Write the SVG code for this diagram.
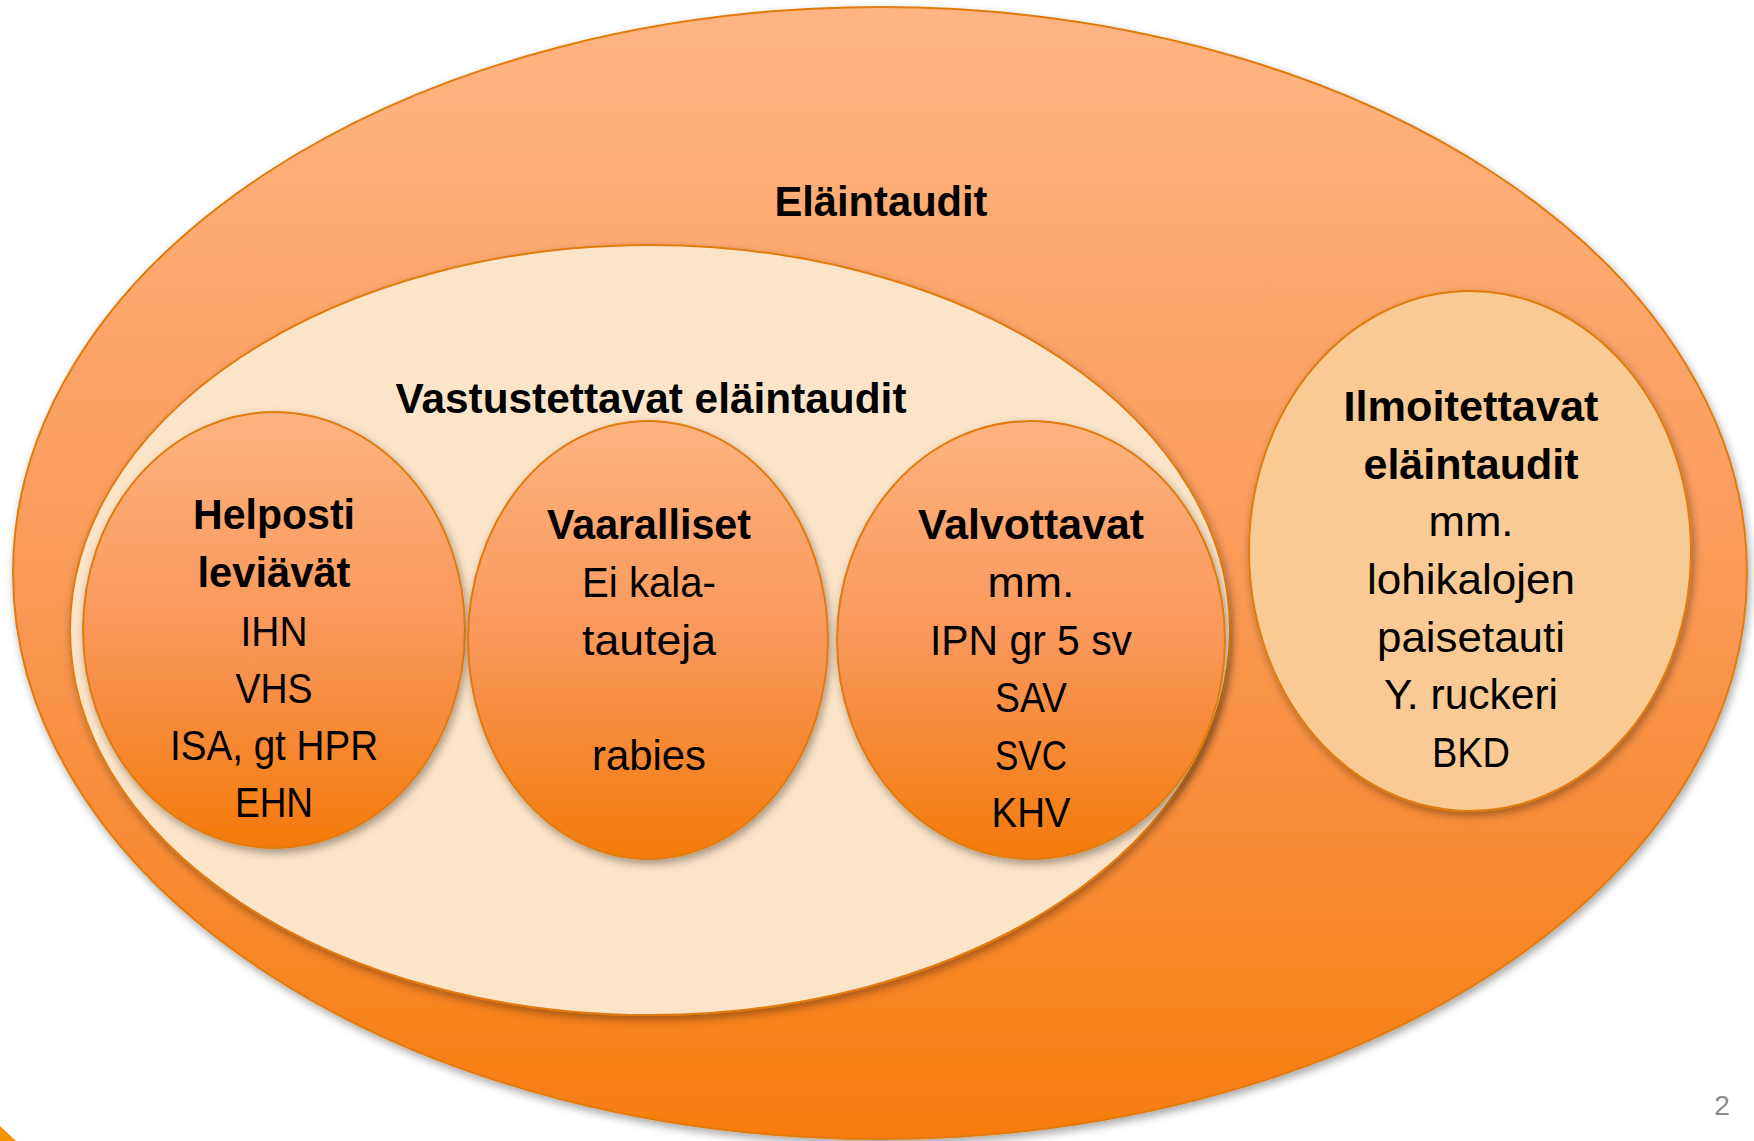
<svg xmlns="http://www.w3.org/2000/svg" width="1754" height="1141" viewBox="0 0 1754 1141">
<defs>
<linearGradient id="gOuter" x1="0" y1="0" x2="0" y2="1">
<stop offset="0" stop-color="#FEB582"/>
<stop offset="0.5" stop-color="#FA9A58"/>
<stop offset="1" stop-color="#F77C0E"/>
</linearGradient>
<linearGradient id="gSmall" x1="0" y1="0" x2="0" y2="1">
<stop offset="0" stop-color="#FDB37F"/>
<stop offset="0.5" stop-color="#F9975A"/>
<stop offset="1" stop-color="#F47A0A"/>
</linearGradient>
<filter id="sh" x="-10%" y="-10%" width="120%" height="125%">
<feDropShadow dx="2" dy="4" stdDeviation="4" flood-color="#000" flood-opacity="0.35"/>
</filter>
<style>
.t{font-family:"Liberation Sans",Arial,sans-serif;font-size:42px;fill:#000;text-anchor:middle}
.b{font-weight:bold}
.ring{stroke:#E07B10;stroke-width:2}
</style>
</defs>
<rect width="1754" height="1141" fill="#fff"/>
<polygon points="0,1126 16,1141 0,1141" fill="#F39200"/>
<g id="elaintaudit">
<ellipse cx="880" cy="573" rx="867" ry="566" fill="url(#gOuter)" class="ring" filter="url(#sh)"/>
<text class="t b" x="881" y="216" textLength="213" lengthAdjust="spacingAndGlyphs">Eläintaudit</text>
</g>
<g id="vastustettavat">
<ellipse cx="650" cy="630" rx="580" ry="385" fill="#FCE4C8" class="ring" filter="url(#sh)"/>
<text class="t b" x="651" y="413" textLength="511" lengthAdjust="spacingAndGlyphs">Vastustettavat eläintaudit</text>
</g>
<g id="helposti">
<ellipse cx="274" cy="630" rx="191" ry="218" fill="url(#gSmall)" class="ring" filter="url(#sh)"/>
<text class="t b" x="274" y="529" textLength="162" lengthAdjust="spacingAndGlyphs">Helposti</text>
<text class="t b" x="274" y="587" textLength="153" lengthAdjust="spacingAndGlyphs">leviävät</text>
<text class="t" x="274" y="646" textLength="67" lengthAdjust="spacingAndGlyphs">IHN</text>
<text class="t" x="274" y="703" textLength="77" lengthAdjust="spacingAndGlyphs">VHS</text>
<text class="t" x="274" y="760" textLength="208" lengthAdjust="spacingAndGlyphs">ISA, gt HPR</text>
<text class="t" x="274" y="817" textLength="78" lengthAdjust="spacingAndGlyphs">EHN</text>
</g>
<g id="vaaralliset">
<ellipse cx="648" cy="640" rx="180" ry="219" fill="url(#gSmall)" class="ring" filter="url(#sh)"/>
<text class="t b" x="649" y="539" textLength="204" lengthAdjust="spacingAndGlyphs">Vaaralliset</text>
<text class="t" x="649" y="597" textLength="134" lengthAdjust="spacingAndGlyphs">Ei kala-</text>
<text class="t" x="649" y="655" textLength="134" lengthAdjust="spacingAndGlyphs">tauteja</text>
<text class="t" x="649" y="770" textLength="114" lengthAdjust="spacingAndGlyphs">rabies</text>
</g>
<g id="valvottavat">
<ellipse cx="1031" cy="640" rx="194" ry="219" fill="url(#gSmall)" class="ring" filter="url(#sh)"/>
<text class="t b" x="1031" y="539" textLength="226" lengthAdjust="spacingAndGlyphs">Valvottavat</text>
<text class="t" x="1031" y="597" textLength="87" lengthAdjust="spacingAndGlyphs">mm.</text>
<text class="t" x="1031" y="655" textLength="202" lengthAdjust="spacingAndGlyphs">IPN gr 5 sv</text>
<text class="t" x="1031" y="712" textLength="72" lengthAdjust="spacingAndGlyphs">SAV</text>
<text class="t" x="1031" y="770" textLength="72" lengthAdjust="spacingAndGlyphs">SVC</text>
<text class="t" x="1031" y="827" textLength="79" lengthAdjust="spacingAndGlyphs">KHV</text>
</g>
<g id="ilmoitettavat">
<ellipse cx="1470" cy="551" rx="221" ry="260" fill="#F9CA94" class="ring" filter="url(#sh)"/>
<text class="t b" x="1471" y="421" textLength="255" lengthAdjust="spacingAndGlyphs">Ilmoitettavat</text>
<text class="t b" x="1471" y="479" textLength="215" lengthAdjust="spacingAndGlyphs">eläintaudit</text>
<text class="t" x="1471" y="536" textLength="85" lengthAdjust="spacingAndGlyphs">mm.</text>
<text class="t" x="1471" y="594" textLength="208" lengthAdjust="spacingAndGlyphs">lohikalojen</text>
<text class="t" x="1471" y="652" textLength="188" lengthAdjust="spacingAndGlyphs">paisetauti</text>
<text class="t" x="1471" y="709" textLength="174" lengthAdjust="spacingAndGlyphs">Y. ruckeri</text>
<text class="t" x="1471" y="767" textLength="78" lengthAdjust="spacingAndGlyphs">BKD</text>
</g>
<text x="1722" y="1115" font-family="'Liberation Sans',Arial,sans-serif" font-size="28" fill="#8A8A8A" text-anchor="middle">2</text>
</svg>
